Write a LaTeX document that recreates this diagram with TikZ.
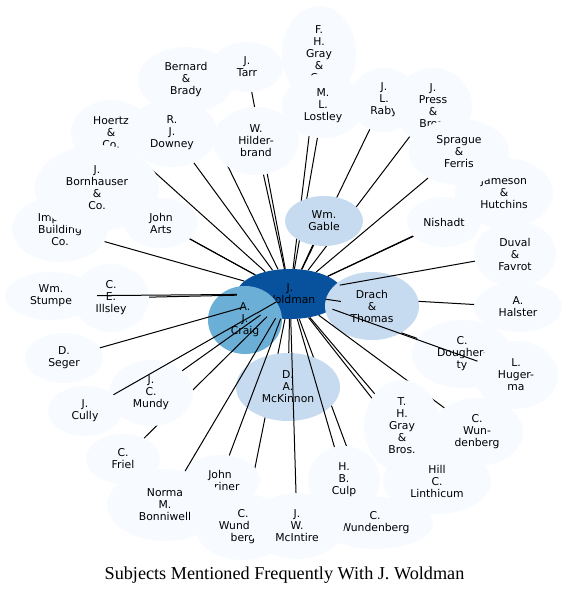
\documentclass[tikz,border=0pt]{standalone}
\usepackage{fontspec}
\usetikzlibrary{shapes.geometric}
\newfontfamily\lblfont{DejaVu Sans}
\newfontfamily\titlefont{Liberation Serif}
\definecolor{blpale}{RGB}{247,251,255}
\definecolor{blmid}{RGB}{198,219,239}
\definecolor{blcraig}{RGB}{107,174,214}
\definecolor{bldark}{RGB}{8,81,156}

\begin{document}
\begin{tikzpicture}[x=1pt,y=-1pt,
    nd/.style 2 args={ellipse,fill=blpale,inner sep=0pt,minimum width=#1pt,
                minimum height=#2pt,align=center,font=\lblfont\fontsize{10.8}{12}\selectfont},
    mid/.style={fill=blmid},
    ln/.style={line width=1pt,draw=black}]
  \useasboundingbox (0,0) rectangle (569,597);
  % centre and its nearest neighbours
  \node[nd={106}{50},fill=bldark] (wold) at (290,294) {J.\\Woldman};
  \node[nd={74}{68},fill=blcraig] (craig) at (245,320) {A.\\J.\\Craig};
  \draw[ln] (wold) -- (craig);
  % upper left
  \node[nd={96}{66}] (imp) at (60,229) {Imperial\\Building\\Co.};
  \draw[ln] (wold) -- (imp);
  \node[nd={80}{66}] (hoertz) at (111,133) {Hoertz\\\&\\Co.};
  \draw[ln] (wold) -- (hoertz);
  \node[nd={124}{86}] (bornh) at (97,188) {J.\\Bornhauser\\\&\\Co.};
  \draw[ln] (wold) -- (bornh);
  \node[nd={74}{50}] (arts) at (161,223) {John\\Arts};
  \draw[ln] (wold) -- (arts);
  \node[nd={96}{66}] (bernard) at (186,80) {Bernard\\\&\\Brady};
  \draw[ln] (wold) -- (bernard);
  \node[nd={90}{68}] (downey) at (172,133) {R.\\J.\\Downey};
  \draw[ln] (wold) -- (downey);
  \node[nd={72}{50}] (tarr) at (247,67) {J.\\Tarr};
  \draw[ln] (wold) -- (tarr);
  \node[nd={86}{68}] (hilder) at (256,141) {W.\\Hilder-\\brand};
  \draw[ln] (wold) -- (hilder);
  % top
  \node[nd={74}{96}] (fhgray) at (319,54) {F.\\H.\\Gray\\\&\\Co.};
  \draw[ln] (wold) -- (fhgray);
  \node[nd={82}{64}] (lostley) at (323,106) {M.\\L.\\Lostley};
  \draw[ln] (wold) -- (lostley);
  \node[nd={68}{64}] (raby) at (384,100) {J.\\L.\\Raby};
  \draw[ln] (wold) -- (raby);
  \node[nd={78}{76}] (press) at (433,106) {J.\\Press\\\&\\Bros.};
  \draw[ln] (wold) -- (press);
  \node[nd={78}{50},mid] (gable) at (324,221) {Wm.\\Gable};
  \draw[ln] (wold) -- (gable);
  % upper right
  \node[nd={98}{70}] (jameson) at (504,193) {Jameson\\\&\\Hutchins};
  \draw[ln] (wold) -- (jameson);
  \node[nd={100}{66}] (sprague) at (459,152) {Sprague\\\&\\Ferris};
  \draw[ln] (wold) -- (sprague);
  \node[nd={74}{50}] (nishadt) at (444,222) {Nishadt};
  \draw[ln] (wold) -- (nishadt);
  % right
  \node[nd={88}{50}] (halster) at (518,307) {A.\\Halster};
  \draw[ln] (wold) -- (halster);
  \node[nd={100}{68}] (dough) at (462,354) {C.\\Dougher-\\ty};
  \draw[ln] (wold) -- (dough);
  \node[nd={94}{68},mid] (drach) at (372,306) {Drach\\\&\\Thomas};
  \draw[ln] (wold) -- (drach);
  \node[nd={82}{66}] (duval) at (515,254) {Duval\\\&\\Favrot};
  \draw[ln] (wold) -- (duval);
  \node[nd={84}{68}] (huger) at (516,375) {L.\\Huger-\\ma};
  \draw[ln] (wold) -- (huger);
  % lower right
  \node[nd={92}{68}] (wundr) at (477,432) {C.\\Wun-\\denberg};
  \draw[ln] (wold) -- (wundr);
  \node[nd={108}{66}] (linth) at (437,481) {Hill\\C.\\Linthicum};
  \draw[ln] (wold) -- (linth);
  \node[nd={76}{92}] (thgray) at (402,426) {T.\\H.\\Gray\\\&\\Bros.};
  \draw[ln] (wold) -- (thgray);
  % bottom
  \node[nd={116}{52}] (wundb) at (375,523) {C.\\Wundenberg};
  \draw[ln] (wold) -- (wundb);
  \node[nd={96}{66}] (wundbl) at (243,527) {C.\\Wunden-\\berg};
  \draw[ln] (wold) -- (wundbl);
  \node[nd={104}{68},mid] (mckin) at (288,387) {D.\\A.\\McKinnon};
  \draw[ln] (wold) -- (mckin);
  \node[nd={72}{68}] (culp) at (344,480) {H.\\B.\\Culp};
  \draw[ln] (wold) -- (culp);
  \node[nd={94}{66}] (mcint) at (297,526) {J.\\W.\\McIntire};
  \draw[ln] (wold) -- (mcint);
  \node[nd={80}{50}] (john) at (220,480) {John\\Shriner};
  \draw[ln] (wold) -- (john);
  \node[nd={116}{72}] (norma) at (165,505) {Norma\\M.\\Bonniwell};
  \draw[ln] (wold) -- (norma);
  % lower left
  \node[nd={74}{50}] (friel) at (123,459) {C.\\Friel};
  \draw[ln] (wold) -- (friel);
  \node[nd={84}{66}] (mundy) at (151,393) {J.\\C.\\Mundy};
  \draw[ln] (wold) -- (mundy);
  \node[nd={74}{50}] (cully) at (85,411) {J.\\Cully};
  \draw[ln] (wold) -- (cully);
  \node[nd={78}{50}] (seger) at (64,358) {D.\\Seger};
  \draw[ln] (wold) -- (seger);
  % left
  \node[nd={92}{48}] (stumpe) at (51,296) {Wm.\\Stumpe};
  \node[nd={76}{68}] (illsley) at (111,298) {C.\\E.\\Illsley};
  \draw[ln] (wold) -- (illsley);
  \draw[ln] (wold) -- (stumpe);
  \node[font=\titlefont\fontsize{18.2}{20}\selectfont] (title) at (284.5,575)
    {Subjects Mentioned Frequently With J. Woldman};
\end{tikzpicture}
\end{document}
